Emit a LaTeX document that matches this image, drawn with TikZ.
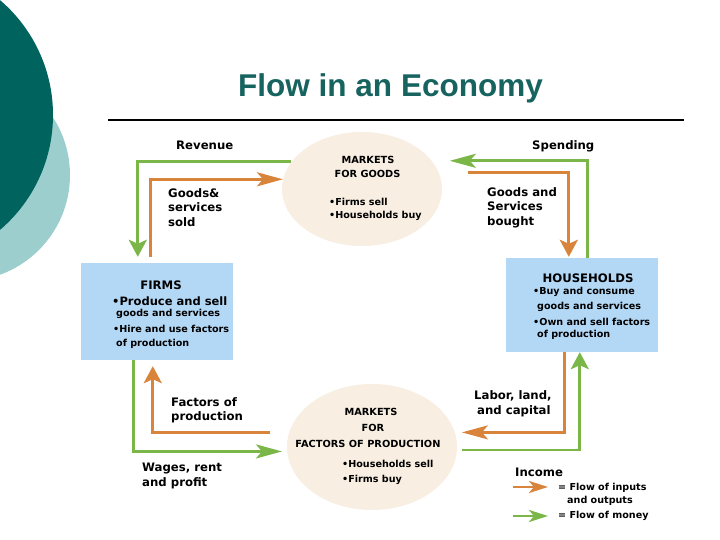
\documentclass[tikz,border=0pt]{standalone}
\usepackage{fontspec}
\setmainfont{DejaVu Sans}
\newfontfamily\titlefont{Liberation Sans}
\usetikzlibrary{shapes.geometric,arrows.meta,calc}
\definecolor{tealdark}{HTML}{00635E}
\definecolor{teallight}{HTML}{9DCECE}
\definecolor{titlec}{HTML}{17635F}
\definecolor{beige}{HTML}{F8EEE2}
\definecolor{boxblue}{HTML}{B3D8F6}
\definecolor{orng}{HTML}{D8843A}
\definecolor{grn}{HTML}{7AB648}
\begin{document}
\begin{tikzpicture}[x=1pt,y=-1pt,
  lbl/.style={font=\fontsize{11.7}{14.5}\selectfont\bfseries, inner sep=0, align=left, anchor=west},
  sm/.style={font=\fontsize{9.6}{11}\selectfont\bfseries, inner sep=0, anchor=west},
  leg/.style={font=\fontsize{9.6}{11}\selectfont\bfseries, inner sep=0, anchor=west},
  capt/.style={font=\fontsize{9.8}{11}\selectfont\bfseries, inner sep=0},
  market/.style={ellipse, fill=beige, inner sep=0},
  agent/.style={rectangle, fill=boxblue, inner sep=0},
  flow/.style={line width=2.8pt},
  goods/.style={flow, draw=orng},
  money/.style={flow, draw=grn},
  harr/.style={-{Stealth[length=26pt,width=14pt,inset=6pt]}},
  varr/.style={-{Stealth[length=17pt,width=18pt,inset=4pt]}},
  legarr/.style={-{Stealth[length=19pt,width=12pt,inset=5pt]}}
]
\useasboundingbox (0,0) rectangle (720,540);
\fill[white] (0,0) rectangle (720,540);
\begin{scope}
  \clip (0,0) rectangle (720,540);
  \fill[teallight] (-36,175) circle[radius=106pt];
  \fill[tealdark] (-98,115) circle[radius=151pt];
\end{scope}

% title
\node[font=\titlefont\fontsize{31.5}{31.5}\selectfont\bfseries, text=titlec, inner sep=0] (title) at (390.5,88) {Flow in an Economy};
\coordinate (ruleL) at (108,120);
\coordinate (ruleR) at (684,120);
\draw[line width=2pt] (ruleL) -- (ruleR);

% markets and agents
\node[market, minimum width=160pt, minimum height=114pt] (mg) at (362,189) {};
\node[market, minimum width=170pt, minimum height=126pt] (mf) at (372,447) {};
\node[agent, minimum width=152pt, minimum height=97pt] (firms) at (157,311.5) {};
\node[agent, minimum width=152pt, minimum height=94pt] (hh) at (582,305) {};

% market for goods text
\node[capt] (mgt1) at (368,160) {MARKETS};
\node[capt] (mgt2) at (367.5,174) {FOR GOODS};
\node[sm] (mgb1) at (329,202) {•Firms sell};
\node[sm] (mgb2) at (329,216) {•Households buy};

% market for factors text
\node[capt] (mft1) at (371,412) {MARKETS};
\node[capt] (mft2) at (373,428) {FOR};
\node[capt] (mft3) at (368,444) {FACTORS OF PRODUCTION};
\node[sm] (mfb1) at (342,464) {•Households sell};
\node[sm] (mfb2) at (342,480) {•Firms buy};

% firms text
\node[lbl, anchor=center] (fh) at (161,285) {FIRMS};
\node[lbl, font=\fontsize{11.5}{12}\selectfont\bfseries] (f1) at (112,301) {•Produce and sell};
\node[sm] (f2) at (116,314) {goods and services};
\node[sm] (f3) at (113,329) {•Hire and use factors};
\node[sm] (f4) at (116,344) {of production};

% households text
\node[lbl, anchor=center] (hhh) at (588,278) {HOUSEHOLDS};
\node[sm] (h1) at (533,292) {•Buy and consume};
\node[sm] (h2) at (537,307) {goods and services};
\node[sm] (h3) at (533,322) {•Own and sell factors};
\node[sm] (h4) at (537,335) {of production};

% flow labels
\node[lbl] (trev) at (176,145) {Revenue};
\node[lbl] (tspend) at (532,146) {Spending};
\node[lbl] (tsold) at (168,207.5) {Goods\&\\services\\sold};
\node[lbl] (tbought) at (487,207.5) {Goods and\\Services\\bought};
\node[lbl] (tfac) at (171,410.5) {Factors of\\production};
\node[lbl] (twag) at (142,476) {Wages, rent\\and profit};
\node[lbl] (tlab) at (474,404) {Labor, land,\\\hspace*{3pt}and capital};
\node[lbl] (tinc) at (515,472) {Income};

% flows
\draw[money,varr] (mg.159) -| ([xshift=57pt,yshift=6pt]firms.north west);
\draw[goods,harr] ([xshift=70pt,yshift=6pt]firms.north west) |- (mg.173);
\draw[money,harr,shorten >=18pt] ([xshift=82pt]hh.north west) |- (mg.22);
\draw[goods,varr,shorten <=29pt] (mg.12) -| ([xshift=63pt,yshift=1pt]hh.north west);
\draw[money,harr,shorten >=5pt] ([xshift=53pt]firms.south west) |- (mf.183);
\draw[goods,varr,shorten <=19pt] (mf.170) -| ([xshift=72pt,yshift=-6pt]firms.south west);
\draw[goods,harr,shorten >=7pt] ([xshift=59pt]hh.south west) |- (mf.10);
\draw[money,varr,shorten <=5pt] (mf.-2) -| ([xshift=74pt]hh.south west);

% legend
\coordinate (lo1) at (513,487);
\coordinate (lo2) at (548,487);
\coordinate (lg1) at (513,516);
\coordinate (lg2) at (548,516);
\draw[goods,legarr] (lo1) -- (lo2);
\draw[money,legarr] (lg1) -- (lg2);
\node[leg] (l1) at (558,488) {= Flow of inputs};
\node[leg] (l2) at (567,501) {and outputs};
\node[leg] (l3) at (558,516) {= Flow of money};
\end{tikzpicture}
\end{document}
